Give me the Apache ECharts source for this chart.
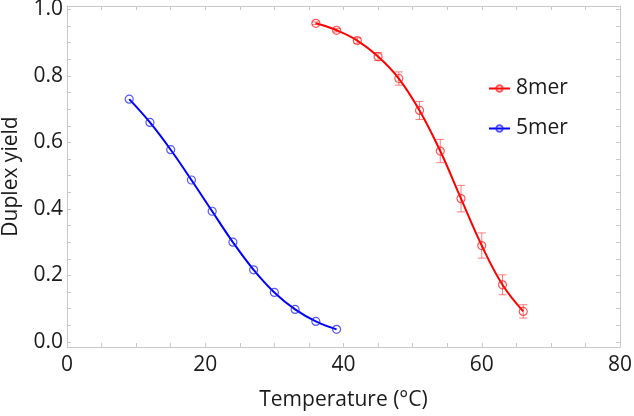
<!DOCTYPE html>
<html><head><meta charset="utf-8">
<script src="https://cdn.jsdelivr.net/npm/echarts@6/dist/echarts.min.js"></script>
<style>html,body{margin:0;padding:0;background:#fff}#c{width:634px;height:416px}</style>
</head><body><div id="c"></div>
<script>
const temp8 = [36, 39, 42, 45, 48, 51, 54, 57, 60, 63, 66];
const yield8 = [0.958, 0.937, 0.906, 0.858, 0.792, 0.696, 0.574, 0.431, 0.290, 0.172, 0.092];
const err8 = [0.004, 0.005, 0.008, 0.012, 0.02, 0.027, 0.035, 0.04, 0.038, 0.03, 0.02];
const temp5 = [9, 12, 15, 18, 21, 24, 27, 30, 33, 36, 39];
const yield5 = [0.730, 0.660, 0.578, 0.487, 0.393, 0.300, 0.217, 0.149, 0.098, 0.062, 0.038];
const xTicks = [0, 20, 40, 60, 80];
const yTicks = [0.0, 0.2, 0.4, 0.6, 0.8, 1.0];
const xMinor = [0,5,10,15,20,25,30,35,40,45,50,55,60,65,70,75,80];
const yMinor = [0,0.05,0.1,0.15,0.2,0.25,0.3,0.35,0.4,0.45,0.5,0.55,0.6,0.65,0.7,0.75,0.8,0.85,0.9,0.95,1.0];

const FONT = 'Open Sans';
const AX = '#c8c8c8';
const TXT = '#1a1a1a';
const chart = echarts.init(document.getElementById('c'), null, {renderer: 'canvas'});

function xAx(pos, labels) {
  return {
    type: 'value', position: pos, min: 0, max: 80,
    name: labels ? 'Temperature (°C)' : '', nameLocation: 'middle', nameGap: 43,
    nameTextStyle: {fontFamily: FONT, fontSize: 21, color: TXT},
    axisLine: {show: true, onZero: false, lineStyle: {color: AX, width: 1}},
    axisTick: {show: true, inside: true, length: 4, customValues: xMinor, lineStyle: {color: AX}},
    axisLabel: {show: labels, customValues: xTicks, margin: 8, fontFamily: FONT, fontSize: 21, color: TXT},
    splitLine: {show: false}
  };
}
function yAx(pos, labels) {
  return {
    type: 'value', position: pos, min: -0.015, max: 1.01,
    name: labels ? 'Duplex yield' : '', nameLocation: 'middle', nameGap: 45,
    nameTextStyle: {fontFamily: FONT, fontSize: 21, color: TXT},
    axisLine: {show: true, onZero: false, lineStyle: {color: AX, width: 1}},
    axisTick: {show: true, inside: true, length: 4, customValues: yMinor, lineStyle: {color: AX}},
    axisLabel: {show: labels, customValues: yTicks, margin: 4, fontFamily: FONT, fontSize: 21, color: TXT,
      formatter: v => Number(v).toFixed(1)},
    splitLine: {show: false}
  };
}

const d8 = temp8.map((t, i) => [t, yield8[i]]);
const d5 = temp5.map((t, i) => [t, yield5[i]]);
const e8 = temp8.map((t, i) => [t, yield8[i] - err8[i], yield8[i] + err8[i]]);

chart.setOption({
  animation: false,
  grid: {left: 67, right: 14, top: 6, bottom: 69, containLabel: false, outerBoundsMode: 'none'},
  xAxis: [xAx('bottom', true), xAx('top', false)],
  yAxis: [yAx('left', true), yAx('right', false)],
  legend: {
    data: ['8mer', '5mer'], orient: 'vertical', left: 483, top: 73,
    itemWidth: 21, itemHeight: 8, itemGap: 19,
    textStyle: {fontFamily: FONT, fontSize: 21, color: TXT, padding: [0, 0, 0, 1]}
  },
  series: [
    {
      type: 'custom', name: 'err8', xAxisIndex: 0, yAxisIndex: 0, data: e8, z: 1,
      renderItem: function (params, api) {
        const lo = api.coord([api.value(0), api.value(1)]);
        const hi = api.coord([api.value(0), api.value(2)]);
        const w = 4;
        const st = {stroke: 'rgba(255,40,40,0.6)', lineWidth: 1, fill: null};
        return {type: 'group', children: [
          {type: 'line', shape: {x1: lo[0], y1: lo[1], x2: hi[0], y2: hi[1]}, style: st},
          {type: 'line', shape: {x1: lo[0] - w, y1: lo[1], x2: lo[0] + w, y2: lo[1]}, style: st},
          {type: 'line', shape: {x1: hi[0] - w, y1: hi[1], x2: hi[0] + w, y2: hi[1]}, style: st}
        ]};
      }
    },
    {
      type: 'line', name: '8mer', data: d8, smooth: 0.4, z: 3,
      symbol: 'circle', symbolSize: 8,
      lineStyle: {color: '#ff0000', width: 2},
      itemStyle: {color: 'rgba(255,0,0,0)', borderColor: 'rgba(255,30,30,0.75)', borderWidth: 1.2}
    },
    {
      type: 'line', name: '5mer', data: d5, smooth: 0.4, z: 3,
      symbol: 'circle', symbolSize: 8,
      lineStyle: {color: '#0000ff', width: 2},
      itemStyle: {color: 'rgba(0,0,255,0)', borderColor: 'rgba(30,30,255,0.75)', borderWidth: 1.2}
    }
  ]
});
</script></body></html>
